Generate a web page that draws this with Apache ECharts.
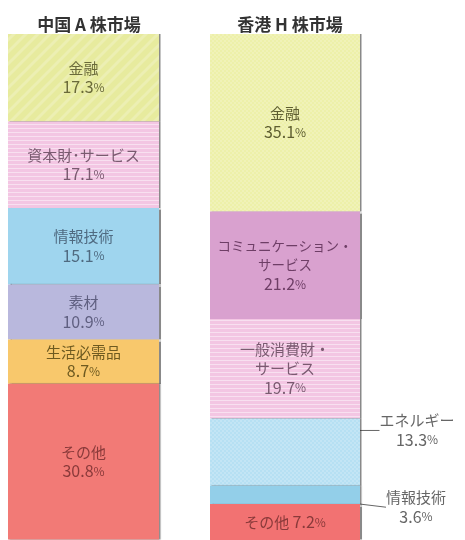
<!DOCTYPE html>
<html><head><meta charset="utf-8">
<script src="https://cdn.jsdelivr.net/npm/echarts@6/dist/echarts.min.js"></script>
<style>html,body{margin:0;padding:0;background:#fff}#c{width:465px;height:540px}</style>
</head><body><div id="c"></div>
<script>
const markets = ['中国 A 株市場', '香港 H 株市場'];
const aNames = ['金融', '資本財･サービス', '情報技術', '素材', '生活必需品', 'その他'];
const aValues = [17.3, 17.1, 15.1, 10.9, 8.7, 30.8];
const hNames = ['金融', 'コミュニケーション・サービス', '一般消費財・サービス', 'エネルギー', '情報技術', 'その他'];
const hLabels = ['金融', 'コミュニケーション・\nサービス', '一般消費財・\nサービス', 'エネルギー', '情報技術', 'その他'];
const hValues = [35.1, 21.2, 19.7, 13.3, 3.6, 7.2];

const aColors = ['#e7eb9e', '#f3c6e3', '#9fd5ee', '#b9b8dd', '#f8c86c', '#f27a76'];
const hColors = ['#edf0a9', '#d9a1cf', '#f3c6e3', '#b6e0f3', '#93cfe9', '#f27272'];
const aText = ['#6a6a3a', '#7a5a70', '#4f6a80', '#5f5f80', '#6e5a20', '#8a3a3a'];
const hText = ['#5e5e30', '#6e3e66', '#7a5a70', '#666', '#666', '#8a3a3a'];
const aTex = ['diag', 'hline', null, null, null, null];
const hTex = ['check', null, 'hline', 'check', null, null];

function fillOf(base, kind) {
  if (!kind) return base;
  const cv = document.createElement('canvas');
  const ctx = cv.getContext('2d');
  if (kind === 'hline') {
    cv.width = 4; cv.height = 4;
    ctx.fillStyle = base; ctx.fillRect(0, 0, 4, 4);
    ctx.fillStyle = 'rgba(255,255,255,0.45)'; ctx.fillRect(0, 0, 4, 1);
  } else if (kind === 'diag') {
    cv.width = 12; cv.height = 12;
    ctx.fillStyle = base; ctx.fillRect(0, 0, 12, 12);
    ctx.strokeStyle = 'rgba(255,255,255,0.22)'; ctx.lineWidth = 3;
    ctx.beginPath(); ctx.moveTo(-2, 14); ctx.lineTo(14, -2); ctx.moveTo(-8, 8); ctx.lineTo(8, -8); ctx.moveTo(4, 20); ctx.lineTo(20, 4); ctx.stroke();
  } else if (kind === 'check') {
    cv.width = 4; cv.height = 4;
    ctx.fillStyle = base; ctx.fillRect(0, 0, 4, 4);
    ctx.fillStyle = 'rgba(255,255,255,0.18)'; ctx.fillRect(0, 0, 2, 2); ctx.fillRect(2, 2, 2, 2);
  }
  return {image: cv, repeat: 'repeat'};
}

const FONT = '"Noto Sans CJK JP", "Noto Sans", sans-serif';
const rich = (c, nfs) => ({
  n: {fontSize: nfs, color: c, lineHeight: 19, fontFamily: FONT},
  v: {fontSize: 16, color: c, lineHeight: 19, fontFamily: FONT},
  p: {fontSize: 12, color: c, lineHeight: 19, fontFamily: FONT}
});
const shadow = {shadowColor: 'rgba(40,40,40,0.55)', shadowOffsetX: 1.5, shadowBlur: 1};

const series = [];
aNames.forEach((n, i) => {
  series.push({
    type: 'bar', name: 'A_' + n, stack: 'a', xAxisIndex: 0, yAxisIndex: 0,
    barWidth: '100%', data: [aValues[i]],
    itemStyle: Object.assign({color: fillOf(aColors[i], aTex[i])}, shadow),
    label: {show: true, position: 'inside', rich: rich(aText[i], 15),
      formatter: () => '{n|' + n + '}\n{v|' + aValues[i].toFixed(1) + '}{p|%}'}
  });
});
hNames.forEach((n, i) => {
  const s = {
    type: 'bar', name: 'H_' + n, stack: 'h', xAxisIndex: 1, yAxisIndex: 1,
    barWidth: '100%', data: [hValues[i]],
    itemStyle: Object.assign({color: fillOf(hColors[i], hTex[i])}, shadow),
    label: {show: true, position: 'inside', rich: rich(hText[i], i === 1 ? 13.5 : 15),
      formatter: () => (i === 5 ? '{n|' + hLabels[i] + ' }' : '{n|' + hLabels[i] + '}\n') + '{v|' + hValues[i].toFixed(1) + '}{p|%}'}
  };
  if (i === 3 || i === 4) {
    s.label = {show: true, position: 'right', distance: 20, align: 'center', rich: rich('#666', 15),
      formatter: () => '{n|' + hLabels[i] + '}\n{v|' + hValues[i].toFixed(1) + '}{p|%}'};
    s.labelLayout = i === 3 ? {dx: 37, dy: -22} : {dx: 36, dy: 12};
    s.labelLine = {show: true, lineStyle: {color: '#666', width: 1}};
  }
  series.push(s);
});

const chart = echarts.init(document.getElementById('c'));
chart.setOption({
  animation: false,
  title: [
    {text: markets[0], left: 84, top: 11, textAlign: 'center', textStyle: {fontSize: 17, fontWeight: 'bold', color: '#333', fontFamily: FONT}},
    {text: markets[1], left: 285, top: 11, textAlign: 'center', textStyle: {fontSize: 17, fontWeight: 'bold', color: '#333', fontFamily: FONT}}
  ],
  grid: [
    {left: 8, top: 34, width: 151, bottom: 0},
    {left: 210, top: 34, width: 150, bottom: 0}
  ],
  xAxis: [
    {type: 'category', gridIndex: 0, data: [markets[0]], show: false},
    {type: 'category', gridIndex: 1, data: [markets[1]], show: false}
  ],
  yAxis: [
    {type: 'value', gridIndex: 0, min: 0, max: 100, inverse: true, show: false},
    {type: 'value', gridIndex: 1, min: 0, max: 100, inverse: true, show: false}
  ],
  series: series
});
</script></body></html>
